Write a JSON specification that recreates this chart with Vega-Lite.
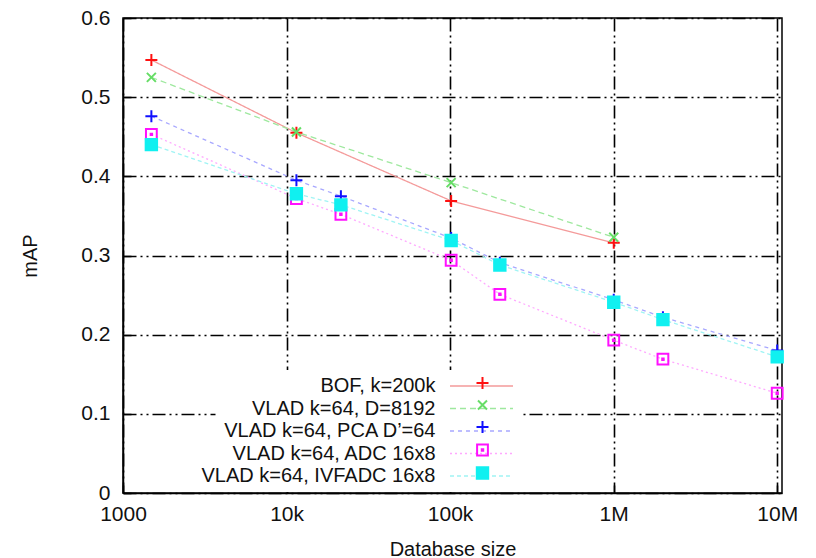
{
  "$schema": "https://vega.github.io/schema/vega-lite/v6.json",
  "width": 659,
  "height": 475,
  "autosize": {"type": "none"},
  "padding": {"left": 123, "top": 18, "right": 34, "bottom": 65},
  "background": "white",
  "config": {
    "font": "Liberation Sans",
    "view": {"stroke": "black", "strokeWidth": 1.5},
    "axis": {
      "domainColor": "black",
      "domainWidth": 1.5,
      "grid": true,
      "gridColor": "black",
      "gridWidth": 1.6,
      "gridOpacity": 1,
      "gridDash": [13, 4, 2, 4, 2, 4],
      "ticks": true,
      "tickSize": -8,
      "tickColor": "black",
      "tickWidth": 1.5,
      "labelFontSize": 21,
      "labelColor": "#111",
      "titleFontSize": 20,
      "titleFontWeight": "normal",
      "titleColor": "#111",
      "labelPadding": 21
    }
  },
  "data": {
    "values": [
      {"series": "BOF, k=200k", "size": 1491, "mAP": 0.547},
      {"series": "BOF, k=200k", "size": 11491, "mAP": 0.455},
      {"series": "BOF, k=200k", "size": 101491, "mAP": 0.369},
      {"series": "BOF, k=200k", "size": 1001491, "mAP": 0.316},
      {"series": "VLAD k=64, D=8192", "size": 1491, "mAP": 0.525},
      {"series": "VLAD k=64, D=8192", "size": 11491, "mAP": 0.456},
      {"series": "VLAD k=64, D=8192", "size": 101491, "mAP": 0.392},
      {"series": "VLAD k=64, D=8192", "size": 1001491, "mAP": 0.323},
      {"series": "VLAD k=64, PCA D’=64", "size": 1491, "mAP": 0.476},
      {"series": "VLAD k=64, PCA D’=64", "size": 11491, "mAP": 0.395},
      {"series": "VLAD k=64, PCA D’=64", "size": 21491, "mAP": 0.375},
      {"series": "VLAD k=64, PCA D’=64", "size": 101491, "mAP": 0.322},
      {"series": "VLAD k=64, PCA D’=64", "size": 201491, "mAP": 0.291},
      {"series": "VLAD k=64, PCA D’=64", "size": 1001491, "mAP": 0.244},
      {"series": "VLAD k=64, PCA D’=64", "size": 2001491, "mAP": 0.222},
      {"series": "VLAD k=64, PCA D’=64", "size": 10001491, "mAP": 0.18},
      {"series": "VLAD k=64, ADC 16x8", "size": 1491, "mAP": 0.453},
      {"series": "VLAD k=64, ADC 16x8", "size": 11491, "mAP": 0.372},
      {"series": "VLAD k=64, ADC 16x8", "size": 21491, "mAP": 0.352},
      {"series": "VLAD k=64, ADC 16x8", "size": 101491, "mAP": 0.294},
      {"series": "VLAD k=64, ADC 16x8", "size": 201491, "mAP": 0.251},
      {"series": "VLAD k=64, ADC 16x8", "size": 1001491, "mAP": 0.193},
      {"series": "VLAD k=64, ADC 16x8", "size": 2001491, "mAP": 0.169},
      {"series": "VLAD k=64, ADC 16x8", "size": 10001491, "mAP": 0.126},
      {"series": "VLAD k=64, IVFADC 16x8", "size": 1491, "mAP": 0.44},
      {"series": "VLAD k=64, IVFADC 16x8", "size": 11491, "mAP": 0.378},
      {"series": "VLAD k=64, IVFADC 16x8", "size": 21491, "mAP": 0.364},
      {"series": "VLAD k=64, IVFADC 16x8", "size": 101491, "mAP": 0.319},
      {"series": "VLAD k=64, IVFADC 16x8", "size": 201491, "mAP": 0.288},
      {"series": "VLAD k=64, IVFADC 16x8", "size": 1001491, "mAP": 0.241},
      {"series": "VLAD k=64, IVFADC 16x8", "size": 2001491, "mAP": 0.219},
      {"series": "VLAD k=64, IVFADC 16x8", "size": 10001491, "mAP": 0.172}
    ]
  },
  "encoding": {
    "x": {
      "field": "size",
      "type": "quantitative",
      "scale": {"type": "log", "domain": [1000, 10700000], "nice": false},
      "axis": {
        "values": [1000, 10000, 100000, 1000000, 10000000],
        "labelExpr": "datum.value >= 1000000 ? format(datum.value / 1000000, 'd') + 'M' : datum.value >= 10000 ? format(datum.value / 1000, 'd') + 'k' : '1000'",
        "title": "Database size",
        "titlePadding": 15,
        "labelPadding": 18,
        "labelFlush": false
      }
    },
    "y": {
      "field": "mAP",
      "type": "quantitative",
      "scale": {"domain": [0, 0.6], "nice": false},
      "axis": {
        "values": [0, 0.1, 0.2, 0.3, 0.4, 0.5, 0.6],
        "labelExpr": "datum.value == 0 ? '0' : format(datum.value, '.1f')",
        "title": "mAP",
        "titlePadding": 40
      }
    }
  },
  "layer": [
    {
      "mark": {"type": "line", "strokeWidth": 1.3},
      "encoding": {
        "stroke": {
          "field": "series",
          "type": "nominal",
          "scale": {
            "domain": ["BOF, k=200k", "VLAD k=64, D=8192", "VLAD k=64, PCA D’=64", "VLAD k=64, ADC 16x8", "VLAD k=64, IVFADC 16x8"],
            "range": ["#f49a9a", "#9ee89e", "#a8a8ff", "#ffa8ff", "#a0f4f4"]
          },
          "legend": {
            "orient": "none", "legendX": 92.5, "legendY": 352, "title": null,
            "symbolType": "M-5.25,0H5.25", "symbolSize": 144, "symbolStrokeWidth": 1.3, "symbolFillColor": "transparent",
            "labelAlign": "right", "labelOffset": -56, "symbolOffset": 250,
            "labelFontSize": 20, "labelColor": "#111", "labelLimit": 400, "rowPadding": 2.5,
            "fillColor": "white", "padding": 6, "zindex": 0
          }
        },
        "strokeDash": {
          "field": "series",
          "type": "nominal",
          "scale": {
            "domain": ["BOF, k=200k", "VLAD k=64, D=8192", "VLAD k=64, PCA D’=64", "VLAD k=64, ADC 16x8", "VLAD k=64, IVFADC 16x8"],
            "range": [[1, 0], [6, 4], [4, 4], [2, 3], [4, 3]]
          },
          "legend": {
            "orient": "none", "legendX": 92.5, "legendY": 352, "title": null,
            "symbolType": "M-5.25,0H5.25", "symbolSize": 144, "symbolStrokeWidth": 1.3, "symbolFillColor": "transparent",
            "labelAlign": "right", "labelOffset": -56, "symbolOffset": 250,
            "labelFontSize": 20, "labelColor": "#111", "labelLimit": 400, "rowPadding": 2.5,
            "fillColor": "white", "padding": 6, "zindex": 0
          }
        }
      }
    },
    {
      "mark": {"type": "point", "filled": true, "strokeWidth": 2, "size": 144, "opacity": 1},
      "encoding": {
        "stroke": {
          "field": "series",
          "type": "nominal",
          "scale": {
            "domain": ["BOF, k=200k", "VLAD k=64, D=8192", "VLAD k=64, PCA D’=64", "VLAD k=64, ADC 16x8", "VLAD k=64, IVFADC 16x8"],
            "range": ["#ff1010", "#66dd66", "#1010ff", "#ff10ff", "#10f0f0"]
          },
          "legend": {
            "orient": "none", "legendX": 352.5, "legendY": 358, "title": null,
            "symbolSize": 144, "symbolStrokeWidth": 2, "labelExpr": "''", "labelFontSize": 1,
            "rowPadding": 3, "padding": 0, "zindex": 1
          }
        },
        "fill": {
          "field": "series",
          "type": "nominal",
          "scale": {
            "domain": ["BOF, k=200k", "VLAD k=64, D=8192", "VLAD k=64, PCA D’=64", "VLAD k=64, ADC 16x8", "VLAD k=64, IVFADC 16x8"],
            "range": ["transparent", "transparent", "transparent", "transparent", "#10f0f0"]
          },
          "legend": {
            "orient": "none", "legendX": 352.5, "legendY": 358, "title": null,
            "symbolSize": 144, "symbolStrokeWidth": 2, "labelExpr": "''", "labelFontSize": 1,
            "rowPadding": 3, "padding": 0, "zindex": 1
          }
        },
        "shape": {
          "field": "series",
          "type": "nominal",
          "scale": {
            "domain": ["BOF, k=200k", "VLAD k=64, D=8192", "VLAD k=64, PCA D’=64", "VLAD k=64, ADC 16x8", "VLAD k=64, IVFADC 16x8"],
            "range": [
              "M-1,0H1M0,-1V1",
              "M-0.75,-0.75L0.75,0.75M-0.75,0.75L0.75,-0.75",
              "M-1,0H1M0,-1V1",
              "M-0.9,-0.9H0.9V0.9H-0.9ZM-0.12,-0.12H0.12V0.12H-0.12Z",
              "M-0.95,-0.95H0.95V0.95H-0.95Z"
            ]
          },
          "legend": {
            "orient": "none", "legendX": 352.5, "legendY": 358, "title": null,
            "symbolSize": 144, "symbolStrokeWidth": 2, "labelExpr": "''", "labelFontSize": 1,
            "rowPadding": 3, "padding": 0, "zindex": 1
          }
        }
      }
    }
  ],
  "resolve": {"scale": {"stroke": "independent", "strokeDash": "independent", "fill": "independent", "shape": "independent"}}
}
